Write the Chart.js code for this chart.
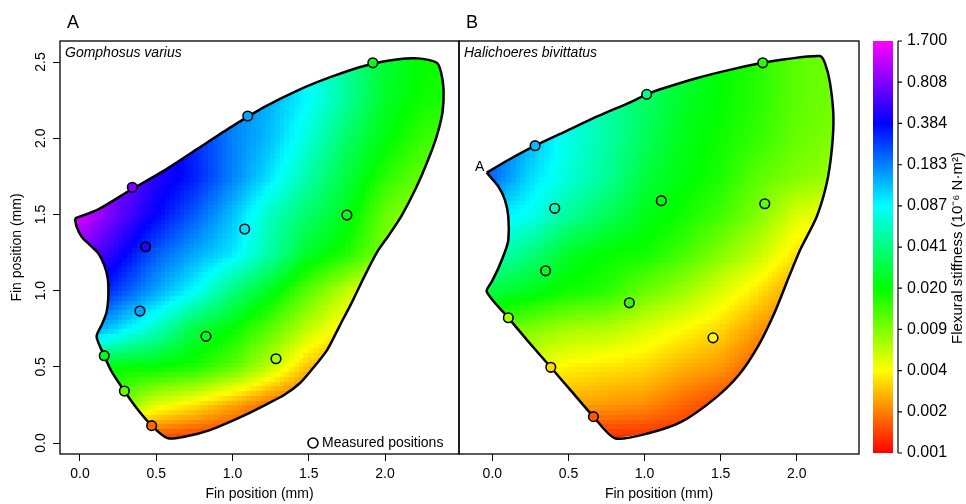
<!DOCTYPE html>
<html>
<head>
<meta charset="utf-8">
<script src="https://cdn.jsdelivr.net/npm/chart.js@4.4.1/dist/chart.umd.min.js"></script>
<style>
html,body{margin:0;padding:0;background:#fff;}
#wrap{position:relative;width:966px;height:504px;overflow:hidden;background:#fff;}
canvas{position:absolute;top:0;}
</style>
</head>
<body>
<div id="wrap">
<canvas id="panelA" width="460" height="504" style="left:0"></canvas>
<canvas id="panelB" width="405" height="504" style="left:458px"></canvas>
<canvas id="bar" width="103" height="504" style="left:863px"></canvas>
</div>
<script>
// axis ticks
const xTicks = [0, 0.5, 1, 1.5, 2];
const yTicks = [0, 0.5, 1, 1.5, 2, 2.5];

// colour scale (10^-6 N·m^2), log spaced
const barMin = 0.001, barMax = 1.7;
const barTickValues = [0.001, 0.0021, 0.00443, 0.00931, 0.0196, 0.0412, 0.0867, 0.182, 0.384, 0.808, 1.7];
const barTickLabels = ['0.001', '0.002', '0.004', '0.009', '0.020', '0.041', '0.087', '0.183', '0.384', '0.808', '1.700'];

// stiffness field at grid nodes (rows: y from 0 up)
const gridX = [0, 0.25, 0.5, 0.75, 1, 1.25, 1.5, 1.75, 2, 2.25, 2.5];
const gridY = [0, 0.25, 0.5, 0.75, 1, 1.25, 1.5, 1.75, 2, 2.25, 2.5];
const stiffnessA = [
  [0.0021, 0.00156, 0.00125, 0.00116, 0.00116, 0.00116, 0.00116, 0.00116, 0.00116, 0.00116, 0.00116],
  [0.0169, 0.0108, 0.00513, 0.00381, 0.00263, 0.00181, 0.00145, 0.00135, 0.00125, 0.00125, 0.00125],
  [0.0285, 0.0196, 0.0196, 0.0169, 0.0116, 0.00642, 0.00305, 0.0021, 0.00181, 0.00156, 0.00145],
  [0.182, 0.108, 0.0597, 0.0285, 0.0196, 0.0116, 0.00642, 0.00381, 0.00263, 0.0021, 0.0021],
  [0.445, 0.264, 0.146, 0.0867, 0.0412, 0.0228, 0.0116, 0.00642, 0.00381, 0.00305, 0.00263],
  [0.808, 0.445, 0.228, 0.146, 0.101, 0.0515, 0.0245, 0.0169, 0.00931, 0.00642, 0.00513],
  [1.36, 0.697, 0.384, 0.228, 0.126, 0.0597, 0.0356, 0.0228, 0.0108, 0.00745, 0.00642],
  [1.17, 0.808, 0.480, 0.331, 0.182, 0.101, 0.0515, 0.0285, 0.0157, 0.0108, 0.00931],
  [1.01, 0.697, 0.480, 0.307, 0.182, 0.126, 0.0692, 0.0356, 0.0211, 0.0145, 0.0116],
  [0.937, 0.646, 0.445, 0.285, 0.182, 0.135, 0.0867, 0.0478, 0.0245, 0.0182, 0.0157],
  [0.808, 0.600, 0.445, 0.285, 0.182, 0.135, 0.0867, 0.0478, 0.0264, 0.0196, 0.0169]
];
const stiffnessB = [
  [0.00181, 0.00145, 0.00125, 0.00116, 0.00116, 0.00116, 0.00116, 0.00116, 0.00116, 0.00116, 0.00116],
  [0.00443, 0.00329, 0.00263, 0.00244, 0.00227, 0.00181, 0.00145, 0.00135, 0.00125, 0.00125, 0.00125],
  [0.00642, 0.00513, 0.00411, 0.00381, 0.00354, 0.00283, 0.00244, 0.00168, 0.00145, 0.00135, 0.00135],
  [0.0116, 0.00931, 0.00745, 0.00691, 0.00553, 0.00443, 0.00354, 0.00244, 0.00181, 0.00156, 0.00156],
  [0.0285, 0.0228, 0.0182, 0.0157, 0.0108, 0.00802, 0.00553, 0.00381, 0.00244, 0.0021, 0.0021],
  [0.0597, 0.0412, 0.0245, 0.0196, 0.0182, 0.0135, 0.00931, 0.00642, 0.00381, 0.00305, 0.00305],
  [0.101, 0.0804, 0.0478, 0.0330, 0.0228, 0.0182, 0.0135, 0.00931, 0.00553, 0.00443, 0.00443],
  [0.211, 0.108, 0.0692, 0.0478, 0.0285, 0.0211, 0.0169, 0.0116, 0.00931, 0.00802, 0.00745],
  [0.211, 0.135, 0.0746, 0.0515, 0.0330, 0.0228, 0.0182, 0.0145, 0.0108, 0.00931, 0.00931],
  [0.264, 0.157, 0.0867, 0.0515, 0.0356, 0.0245, 0.0196, 0.0157, 0.0116, 0.0100, 0.00931],
  [0.264, 0.182, 0.101, 0.0597, 0.0412, 0.0285, 0.0196, 0.0157, 0.0116, 0.0100, 0.00931]
];

// fin outlines (mm)
const outlineA = [
  [-0.033, 1.474], [0.12, 1.533], [0.339, 1.665], [0.557, 1.791], [0.776, 1.934], [0.995, 2.076],
  [1.213, 2.207], [1.432, 2.316], [1.65, 2.404], [1.869, 2.476], [2.087, 2.518], [2.219, 2.524],
  [2.339, 2.495], [2.367, 2.434], [2.384, 2.316], [2.377, 2.172], [2.341, 2.021], [2.282, 1.857],
  [2.203, 1.673], [2.111, 1.496], [2.026, 1.365], [1.948, 1.253], [1.869, 1.102], [1.79, 0.938],
  [1.705, 0.774], [1.62, 0.61], [1.528, 0.492], [1.443, 0.394], [1.338, 0.315], [1.226, 0.256],
  [1.095, 0.19], [0.964, 0.131], [0.852, 0.085], [0.721, 0.049], [0.577, 0.031], [0.47, 0.114],
  [0.372, 0.228], [0.291, 0.341], [0.208, 0.468], [0.159, 0.573], [0.109, 0.698], [0.142, 0.774],
  [0.175, 0.862], [0.186, 0.971], [0.182, 1.081], [0.159, 1.168], [0.12, 1.245], [0.077, 1.288],
  [0.011, 1.354], [-0.022, 1.419]
];
const outlineB = [
  [-0.037, 1.774], [0.105, 1.857], [0.281, 1.951], [0.478, 2.043], [0.697, 2.146], [0.916, 2.24],
  [1.014, 2.288], [1.135, 2.331], [1.353, 2.397], [1.573, 2.452], [1.777, 2.495], [1.923, 2.518],
  [2.153, 2.539], [2.186, 2.491], [2.219, 2.36], [2.241, 2.141], [2.23, 1.923], [2.197, 1.704],
  [2.131, 1.485], [2.022, 1.266], [1.945, 1.081], [1.857, 0.862], [1.75, 0.643], [1.619, 0.446],
  [1.463, 0.293], [1.244, 0.14], [1.025, 0.064], [0.806, 0.031], [0.664, 0.173], [0.522, 0.337],
  [0.384, 0.497], [0.237, 0.665], [0.105, 0.822], [-0.037, 0.993], [-0.004, 1.058], [0.039, 1.146],
  [0.083, 1.255], [0.105, 1.332], [0.105, 1.485], [0.083, 1.594], [0.041, 1.682]
];

// measured positions
const measuredAx = [0.343, 1.10, 1.92, 1.75, 1.08, 0.43, 0.393, 0.826, 1.285, 0.159, 0.291, 0.47];
const measuredAy = [1.678, 2.146, 2.495, 1.496, 1.404, 1.288, 0.866, 0.70, 0.553, 0.573, 0.341, 0.114];
const measuredAv = [0.808, 0.146, 0.0228, 0.0228, 0.101, 0.48, 0.146, 0.0228, 0.00745, 0.0228, 0.0108, 0.00181];
const measuredBx = [0.281, 1.014, 1.777, 0.41, 1.11, 1.79, 0.35, 0.90, 1.45, 0.105, 0.384, 0.664];
const measuredBy = [1.951, 2.288, 2.495, 1.54, 1.59, 1.57, 1.13, 0.92, 0.69, 0.822, 0.497, 0.173];
const measuredBv = [0.126, 0.0412, 0.0157, 0.0597, 0.0196, 0.0116, 0.0228, 0.0145, 0.00443, 0.00745, 0.00354, 0.00168];

const family = "'Liberation Sans', Arial, Helvetica, sans-serif";
Chart.defaults.font.family = family;
Chart.defaults.color = '#000';

function stiffnessColor(v) {
  let t = Math.log(v / barMin) / Math.log(barMax / barMin);
  t = Math.max(0, Math.min(1, t));
  return 'hsl(' + (300 * t).toFixed(1) + ',100%,50%)';
}

// bilinear blend of the grid (in log space) for shading a cell
function fieldAt(grid, x, y) {
  const step = gridX[1] - gridX[0];
  let fx = (x - gridX[0]) / step, fy = (y - gridY[0]) / step;
  fx = Math.max(0, Math.min(gridX.length - 1.0001, fx));
  fy = Math.max(0, Math.min(gridY.length - 1.0001, fy));
  const i = Math.floor(fx), j = Math.floor(fy), dx = fx - i, dy = fy - j;
  const l = (r, c) => Math.log(grid[r][c]);
  return Math.exp((1 - dx) * (1 - dy) * l(j, i) + dx * (1 - dy) * l(j, i + 1) +
                  (1 - dx) * dy * l(j + 1, i) + dx * dy * l(j + 1, i + 1));
}

function fieldPlugin(grid, outline) {
  return {
    id: 'field',
    beforeDatasetsDraw(chart) {
      const ctx = chart.ctx, xs = chart.scales.x, ys = chart.scales.y;
      ctx.save();
      ctx.beginPath();
      outline.forEach((p, k) => {
        const px = xs.getPixelForValue(p[0]), py = ys.getPixelForValue(p[1]);
        if (k) ctx.lineTo(px, py); else ctx.moveTo(px, py);
      });
      ctx.closePath();
      ctx.clip();
      const h = 0.03125;
      for (let a = 0; a < 92; a++) {
        for (let b = 0; b < 92; b++) {
          const x = -0.25 + a * h, y = -0.125 + b * h;
          ctx.fillStyle = stiffnessColor(fieldAt(grid, x + h / 2, y + h / 2));
          const x0 = Math.floor(xs.getPixelForValue(x)), x1 = Math.ceil(xs.getPixelForValue(x + h));
          const y0 = Math.ceil(ys.getPixelForValue(y)), y1 = Math.floor(ys.getPixelForValue(y + h));
          ctx.fillRect(x0, y1, x1 - x0, y0 - y1);
        }
      }
      ctx.restore();
    }
  };
}

function decorPlugin(letter, species, opts) {
  return {
    id: 'decor',
    afterDraw(chart) {
      const ctx = chart.ctx, a = chart.chartArea, xs = chart.scales.x, ys = chart.scales.y;
      ctx.save();
      ctx.strokeStyle = '#000';
      ctx.lineWidth = 1.3;
      ctx.strokeRect(a.left, a.top, a.right - a.left, a.bottom - a.top);
      ctx.fillStyle = '#000';
      ctx.textBaseline = 'middle';
      ctx.textAlign = 'left';
      ctx.font = '18px ' + family;
      ctx.fillText(letter, a.left + 7, 23);
      ctx.font = 'italic 14px ' + family;
      ctx.fillText(species, a.left + 5, a.top + 12);
      if (opts.yLabels) {
        ctx.font = '14px ' + family;
        ctx.textAlign = 'center';
        yTicks.forEach(v => {
          ctx.save();
          ctx.translate(a.left - 19, ys.getPixelForValue(v));
          ctx.rotate(-Math.PI / 2);
          ctx.fillText(v.toFixed(1), 0, 0);
          ctx.restore();
        });
      }
      if (opts.legend) {
        ctx.beginPath();
        ctx.arc(a.right - 146, a.bottom - 11, 5, 0, Math.PI * 2);
        ctx.lineWidth = 1.6;
        ctx.stroke();
        ctx.font = '14px ' + family;
        ctx.textAlign = 'left';
        ctx.fillText('Measured positions', a.right - 137, a.bottom - 11);
      }
      if (opts.tipLabel) {
        ctx.font = '14px ' + family;
        ctx.textAlign = 'center';
        const p = opts.tipLabel;
        ctx.fillText('A', xs.getPixelForValue(p[0]) - 7, ys.getPixelForValue(p[1]) - 6);
      }
      ctx.restore();
    }
  };
}

function panelConfig(cfg) {
  const pts = cfg.mx.map((x, i) => ({x: x, y: cfg.my[i]}));
  const line = cfg.outline.concat([cfg.outline[0]]).map(p => ({x: p[0], y: p[1]}));
  return {
    type: 'scatter',
    data: {
      datasets: [
        {
          label: 'Measured positions',
          data: pts,
          pointRadius: 4.8,
          pointBorderWidth: 1.6,
          pointBorderColor: '#000',
          pointBackgroundColor: cfg.mv.map(stiffnessColor),
          order: 0
        },
        {
          label: 'outline',
          data: line,
          showLine: true,
          borderColor: '#000',
          borderWidth: 2.5,
          borderJoinStyle: 'round',
          pointRadius: 0,
          tension: 0.25,
          fill: false,
          order: 1
        }
      ]
    },
    options: {
      responsive: false,
      animation: false,
      events: [],
      layout: {padding: cfg.padding, autoPadding: false},
      plugins: {legend: {display: false}, tooltip: {enabled: false}},
      scales: {
        x: {
          type: 'linear',
          min: cfg.xMin,
          max: cfg.xMax,
          afterBuildTicks: s => { s.ticks = xTicks.map(v => ({value: v})); },
          afterFit: s => { s.height = 49; s.paddingLeft = 0; s.paddingRight = 0; },
          border: {display: false},
          grid: {drawOnChartArea: false, drawTicks: true, tickLength: 7, color: '#000', lineWidth: 1},
          ticks: {font: {size: 14}, color: '#000', padding: 5, autoSkip: false, maxRotation: 0,
                  callback: v => Number(v).toFixed(1)},
          title: {display: true, text: 'Fin position (mm)', font: {size: 14}, color: '#000',
                  padding: {top: 0, bottom: 0}}
        },
        y: cfg.yAxis ? {
          type: 'linear',
          min: -0.072,
          max: 2.638,
          afterBuildTicks: s => { s.ticks = yTicks.map(v => ({value: v})); },
          afterFit: s => { s.width = 60; s.paddingTop = 0; s.paddingBottom = 0; },
          border: {display: false},
          grid: {drawOnChartArea: false, drawTicks: true, tickLength: 7, color: '#000', lineWidth: 1},
          ticks: {display: false},
          title: {display: true, text: 'Fin position (mm)', font: {size: 14}, color: '#000',
                  padding: {top: 9, bottom: 0}}
        } : {
          type: 'linear',
          min: -0.072,
          max: 2.638,
          display: false
        }
      }
    },
    plugins: [fieldPlugin(cfg.grid, cfg.outline), decorPlugin(cfg.letter, cfg.species, cfg.decor)]
  };
}

new Chart(document.getElementById('panelA'), panelConfig({
  mx: measuredAx, my: measuredAy, mv: measuredAv,
  outline: outlineA, grid: stiffnessA,
  xMin: -0.131, xMax: 2.485,
  padding: {left: 0, right: 1, top: 41, bottom: 1},
  yAxis: true,
  letter: 'A', species: 'Gomphosus varius',
  decor: {yLabels: true, legend: true}
}));

new Chart(document.getElementById('panelB'), panelConfig({
  mx: measuredBx, my: measuredBy, mv: measuredBv,
  outline: outlineB, grid: stiffnessB,
  xMin: -0.219, xMax: 2.409,
  padding: {left: 1, right: 4, top: 41, bottom: 1},
  yAxis: false,
  letter: 'B', species: 'Halichoeres bivittatus',
  decor: {tipLabel: outlineB[0]}
}));

// colour bar
new Chart(document.getElementById('bar'), {
  type: 'bar',
  data: {
    labels: [''],
    datasets: [{
      data: [[barMin, barMax]],
      borderWidth: 0,
      barPercentage: 1,
      categoryPercentage: 1,
      backgroundColor(c) {
        const a = c.chart.chartArea;
        if (!a) return '#f00';
        const g = c.chart.ctx.createLinearGradient(0, a.bottom, 0, a.top);
        [0, 0.2, 0.4, 0.6, 0.8, 1].forEach(s => g.addColorStop(s, 'hsl(' + 300 * s + ',100%,50%)'));
        return g;
      }
    }]
  },
  options: {
    responsive: false,
    animation: false,
    events: [],
    layout: {padding: {left: 10, right: 0, top: 41, bottom: 51}, autoPadding: false},
    plugins: {legend: {display: false}, tooltip: {enabled: false}},
    scales: {
      x: {display: false},
      y: {
        type: 'logarithmic',
        position: 'right',
        min: barMin,
        max: barMax,
        afterBuildTicks: s => { s.ticks = barTickValues.map(v => ({value: v})); },
        afterFit: s => { s.width = 73; },
        border: {display: false},
        grid: {drawOnChartArea: false, drawTicks: true, tickLength: 9, color: 'rgba(0,0,0,0)'},
        ticks: {font: {size: 16}, color: '#000', padding: 5, autoSkip: false,
                callback: (v, i) => barTickLabels[i]}
      }
    }
  },
  plugins: [{
    id: 'barAxis',
    afterDraw(chart) {
      const ctx = chart.ctx, a = chart.chartArea, ys = chart.scales.y;
      const ax = a.right + 5;
      ctx.save();
      ctx.strokeStyle = '#000';
      ctx.lineWidth = 1.2;
      ctx.beginPath();
      ctx.moveTo(ax, ys.getPixelForValue(barMax));
      ctx.lineTo(ax, ys.getPixelForValue(barMin));
      barTickValues.forEach(v => {
        const py = ys.getPixelForValue(v);
        ctx.moveTo(ax, py);
        ctx.lineTo(ax + 4, py);
      });
      ctx.stroke();
      ctx.fillStyle = '#000';
      ctx.font = '15px ' + family;
      ctx.textAlign = 'center';
      ctx.textBaseline = 'middle';
      ctx.translate(95, 248);
      ctx.rotate(-Math.PI / 2);
      ctx.fillText('Flexural stiffness (10\u207B\u2076 N\u00B7m\u00B2)', 0, 0);
      ctx.restore();
    }
  }]
});
</script>
</body>
</html>
